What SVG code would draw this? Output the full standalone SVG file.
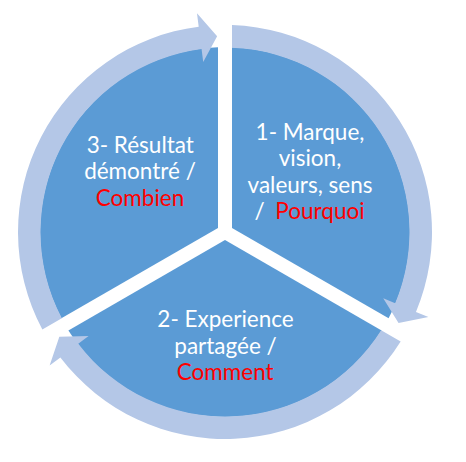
<svg xmlns="http://www.w3.org/2000/svg" width="466" height="462" viewBox="0 0 466 462">
  <style>
    .sector { fill: #5B9BD5; }
    .ring { fill: #B4C7E7; }
    .lbl { font-family: Lato, "Liberation Sans", sans-serif; font-size: 22.5px; fill: #FFFFFF; text-anchor: middle; }
    .red { fill: #FF0000; }
  </style>
  <rect width="466" height="462" fill="#FFFFFF"/>
  <g id="node-1">
    <path class="sector" d="M 232,227.96 L 232,47.13 A 185 185 0 0 1 388.60,318.37 Z"/>
    <text class="lbl"><tspan x="310" y="139.5">1- Marque,</tspan><tspan x="310" y="166">vision,</tspan><tspan x="310" y="192.5">valeurs, sens</tspan><tspan x="259.5" y="218.5">/</tspan><tspan class="red" x="320" y="218.5">Pourquoi</tspan></text>
  </g>
  <g id="node-2">
    <path class="sector" d="M 225,240.08 L 381.60,330.49 A 185 185 0 0 1 68.40,330.49 Z"/>
    <text class="lbl"><tspan x="225.5" y="327.3">2- Experience</tspan><tspan x="225.5" y="353.7">partagée /</tspan><tspan class="red" x="225.2" y="380">Comment</tspan></text>
  </g>
  <g id="node-3">
    <path class="sector" d="M 218,227.96 L 61.40,318.37 A 185 185 0 0 1 218,47.13 Z"/>
    <text class="lbl"><tspan x="140.3" y="152.8">3- Résultat</tspan><tspan x="140" y="179.3">démontré /</tspan><tspan class="red" x="140" y="205.8">Combien</tspan></text>
  </g>
  <g id="connectors">
    <path class="ring" d="M 42.34,329.38 A 207 207 0 0 1 198.70,26.68 L 196.98,13.29 L 217.13,36.16 L 203.21,61.89 L 201.56,49.00 A 184.5 184.5 0 0 0 61.83,318.13 Z"/>
    <path class="ring" d="M 232,25.12 A 207 207 0 0 1 415.97,311.88 L 428.42,317.09 L 398.54,323.11 L 383.22,298.18 L 395.21,303.20 A 184.5 184.5 0 0 0 232,47.63 Z"/>
    <path class="ring" d="M 400.66,341.50 A 207 207 0 0 1 60.37,357.44 L 49.63,365.62 L 59.33,336.73 L 88.60,335.93 L 78.26,343.81 A 184.5 184.5 0 0 0 381.17,330.25 Z"/>
  </g>
</svg>
